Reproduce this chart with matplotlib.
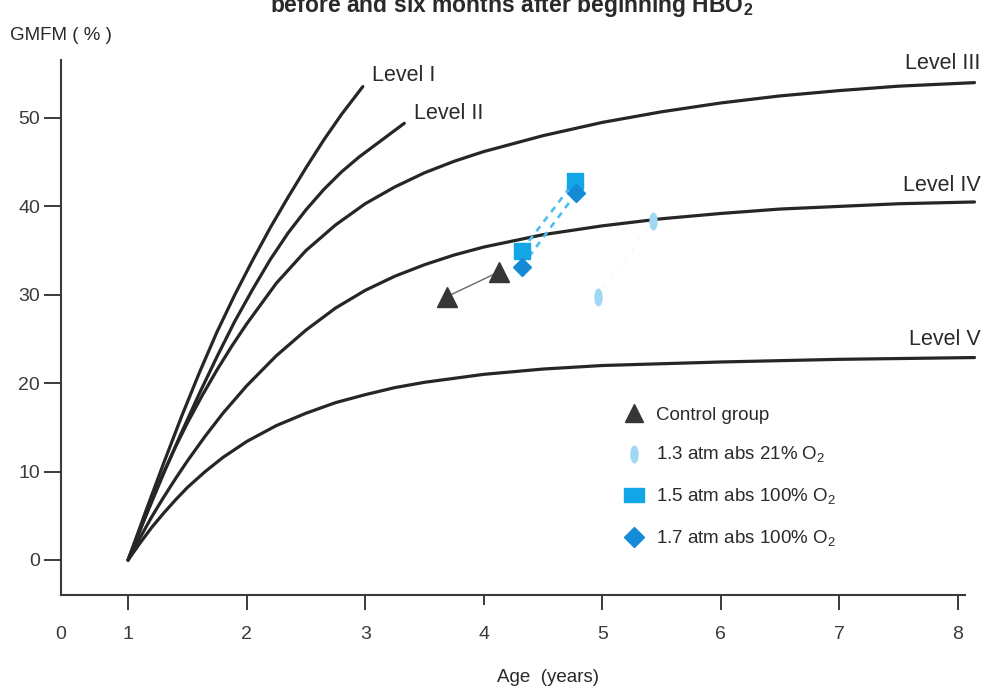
import numpy as np
import matplotlib
matplotlib.use('Agg')
import matplotlib.pyplot as plt
from matplotlib.path import Path
from matplotlib.lines import Line2D
from matplotlib import font_manager

# ---- fonts ----
def has_font(name):
    try:
        font_manager.findfont(name, fallback_to_default=False)
        return True
    except Exception:
        return False

main_font = 'Liberation Sans Narrow' if has_font('Liberation Sans Narrow') else 'Liberation Sans'
plt.rcParams['font.family'] = [main_font, 'DejaVu Sans']
plt.rcParams['mathtext.fontset'] = 'custom'
plt.rcParams['mathtext.rm'] = main_font
plt.rcParams['mathtext.bf'] = main_font + ':bold'

# ---- data ----
level1_age = [1.0, 1.15, 1.3, 1.45, 1.6, 1.75, 1.9, 2.05, 2.2, 2.35, 2.5, 2.65, 2.8, 2.98]
level1_val = [0, 5.55, 10.95, 16.2, 21.15, 25.8, 30.0, 33.9, 37.6, 41.05, 44.35, 47.5, 50.4, 53.55]

level2_age = [1.0, 1.15, 1.3, 1.45, 1.6, 1.75, 1.9, 2.05, 2.2, 2.35, 2.5, 2.65, 2.8, 2.95, 3.1, 3.2, 3.33]
level2_val = [0, 5.0, 9.8, 14.4, 18.8, 23.0, 27.0, 30.6, 34.0, 37.0, 39.6, 41.9, 43.9, 45.6, 47.1, 48.1, 49.4]

level3_age = [1.0, 1.1, 1.2, 1.3, 1.4, 1.5, 1.625, 1.75, 1.875, 2.0, 2.25, 2.5, 2.75, 3.0, 3.25,
              3.5, 3.75, 4.0, 4.5, 5.0, 5.5, 6.0, 6.5, 7.0, 7.5, 8.14]
level3_val = [0, 3.4, 6.7, 9.9, 12.8, 15.5, 18.6, 21.5, 24.2, 26.7, 31.3, 35.0, 37.9, 40.3, 42.2,
              43.8, 45.1, 46.2, 48.0, 49.5, 50.7, 51.7, 52.5, 53.1, 53.6, 54.0]

level4_age = [1.0, 1.1, 1.2, 1.3, 1.4, 1.5, 1.65, 1.8, 2.0, 2.25, 2.5, 2.75, 3.0, 3.25, 3.5, 3.75,
              4.0, 4.5, 5.0, 5.5, 6.0, 6.5, 7.0, 7.5, 8.14]
level4_val = [0, 2.5, 4.9, 7.1, 9.2, 11.2, 14.0, 16.6, 19.7, 23.1, 26.0, 28.5, 30.5, 32.1, 33.4, 34.5,
              35.4, 36.8, 37.8, 38.6, 39.2, 39.7, 40.0, 40.3, 40.5]

level5_age = [1.0, 1.1, 1.2, 1.3, 1.4, 1.5, 1.65, 1.8, 2.0, 2.25, 2.5, 2.75, 3.0, 3.25, 3.5, 4.0,
              4.5, 5.0, 5.5, 6.0, 7.0, 8.14]
level5_val = [0, 1.9, 3.7, 5.3, 6.8, 8.2, 10.0, 11.6, 13.4, 15.2, 16.6, 17.8, 18.7, 19.5, 20.1, 21.0,
              21.6, 22.0, 22.2, 22.4, 22.7, 22.9]

level_labels = ['Level I', 'Level II', 'Level III', 'Level IV', 'Level V']

control_age = [3.69, 4.13]
control_val = [29.8, 32.6]
atm13_age = [4.96, 5.43]
atm13_val = [29.8, 38.4]
atm15_age = [4.32, 4.77]
atm15_val = [35.0, 42.9]
atm17_age = [4.32, 4.78]
atm17_val = [33.2, 41.5]

legend_labels = ['Control group', '1.3 atm abs 21% O$_2$',
                 '1.5 atm abs 100% O$_2$', '1.7 atm abs 100% O$_2$']

x_ticks = [0, 1, 2, 3, 4, 5, 6, 7, 8]
y_ticks = [0, 10, 20, 30, 40, 50]

# ---- broken x scale: 0..1 compressed ----
C = 0.566
def fwd(x):
    x = np.asarray(x, dtype=float)
    return np.where(x <= 1, x * C, C + (x - 1))
def inv(u):
    u = np.asarray(u, dtype=float)
    return np.where(u <= C, u / C, 1 + (u - C))

fig = plt.figure(figsize=(9.85, 6.9), dpi=100)
ax = fig.add_axes([61/985, 95/690, 904/985, 535/690])
ax.set_xscale('function', functions=(fwd, inv))
ax.set_xlim(0, 8.06)
ax.set_ylim(-3.96, 56.56)

curve_col = '#262626'
curves = [(level1_age, level1_val), (level2_age, level2_val), (level3_age, level3_val),
          (level4_age, level4_val), (level5_age, level5_val)]
for a, v in curves:
    ax.plot(a, v, color=curve_col, lw=2.3, solid_capstyle='round', solid_joinstyle='round',
            clip_on=False, zorder=2)

# level labels next to curve ends
offs = [(9, 11, 'left'), (10, 10, 'left'), (6, 19, 'right'), (6, 16, 'right'), (6, 18, 'right')]
for (a, v), lab, (dx, dy, ha) in zip(curves, level_labels, offs):
    ax.annotate(lab, (a[-1], v[-1]), xytext=(dx * 0.72, dy * 0.72), textcoords='offset points',
                ha=ha, va='center', fontsize=15.5, color='#2a2a2a', annotation_clip=False)

# markers
tri_col = '#363638'
sq_col = '#12a6e6'
dia_col = '#158ad6'
ell_col = '#9fd8f2'
dash_col = '#4cbfee'

uc = Path.unit_circle()
ell_path = Path(np.column_stack([0.42 * uc.vertices[:, 0], uc.vertices[:, 1]]), uc.codes)
rect_path = Path([(-1, -0.68), (1, -0.68), (1, 0.68), (-1, 0.68), (-1, -0.68)],
                 [Path.MOVETO, Path.LINETO, Path.LINETO, Path.LINETO, Path.CLOSEPOLY])

ax.plot(control_age, control_val, color='#6a6a6a', lw=1.0, zorder=3)
ax.plot(control_age, control_val, ls='none', marker='^', ms=15, color=tri_col, zorder=4)

ax.plot(atm13_age, atm13_val, color='#eef2f4', lw=1.2, ls=(0, (1, 6)), zorder=3)
ax.plot(atm13_age, atm13_val, ls='none', marker=ell_path, ms=12, color=ell_col, zorder=4)

ax.plot(atm15_age, atm15_val, color=dash_col, lw=1.9, ls=(0, (2.4, 2.2)), zorder=3)
ax.plot(atm17_age, atm17_val, color=dash_col, lw=1.9, ls=(0, (2.4, 2.2)), zorder=3)
ax.plot(atm15_age, atm15_val, ls='none', marker='s', ms=11, color=sq_col, zorder=4)
ax.plot(atm17_age, atm17_val, ls='none', marker='D', ms=9, color=dia_col, zorder=5)

handles = [
    Line2D([], [], ls='none', marker='^', ms=13, color=tri_col),
    Line2D([], [], ls='none', marker=ell_path, ms=12, color=ell_col),
    Line2D([], [], ls='none', marker=rect_path, ms=14, color=sq_col),
    Line2D([], [], ls='none', marker='D', ms=10, color=dia_col),
]
ax.legend(handles, legend_labels, loc='upper left', bbox_to_anchor=((615 - 61) / 904, (595 - 399) / 535),
          frameon=False, fontsize=13.5, labelspacing=1.15, handlelength=1.2, handletextpad=0.6,
          borderaxespad=0, labelcolor='#2a2a2a')

# axes styling
for s in ['top', 'right']:
    ax.spines[s].set_visible(False)
for s in ['left', 'bottom']:
    ax.spines[s].set_linewidth(1.5)
    ax.spines[s].set_color('#3a3a3a')

ax.set_xticks(x_ticks)
ax.set_xticklabels([str(t) for t in x_ticks])
ax.set_yticks(y_ticks)
ax.tick_params(axis='x', direction='out', length=11, width=1.4, pad=11, labelsize=14,
               colors='#3a3a3a')
ax.tick_params(axis='y', direction='out', length=12, width=1.4, pad=3, labelsize=14,
               colors='#3a3a3a')
xt = ax.xaxis.get_major_ticks()
xt[0].tick1line.set_visible(False)
xt[4].tick1line.set_markersize(7)

fig.text(10/985, 1 - 35/690, 'GMFM ( % )', ha='left', va='center', fontsize=13.5, color='#2a2a2a')
fig.text(548/985, 1 - 677/690, 'Age  (years)', ha='center', va='center', fontsize=13.5, color='#2a2a2a')
fig.text(512/985, 1 - 12/690, 'before and six months after beginning HBO$_\\mathbf{2}$',
         ha='center', va='baseline', fontsize=16.5, fontweight='bold', color='#2a2a2a')

fig.savefig('out.png', dpi=100)
